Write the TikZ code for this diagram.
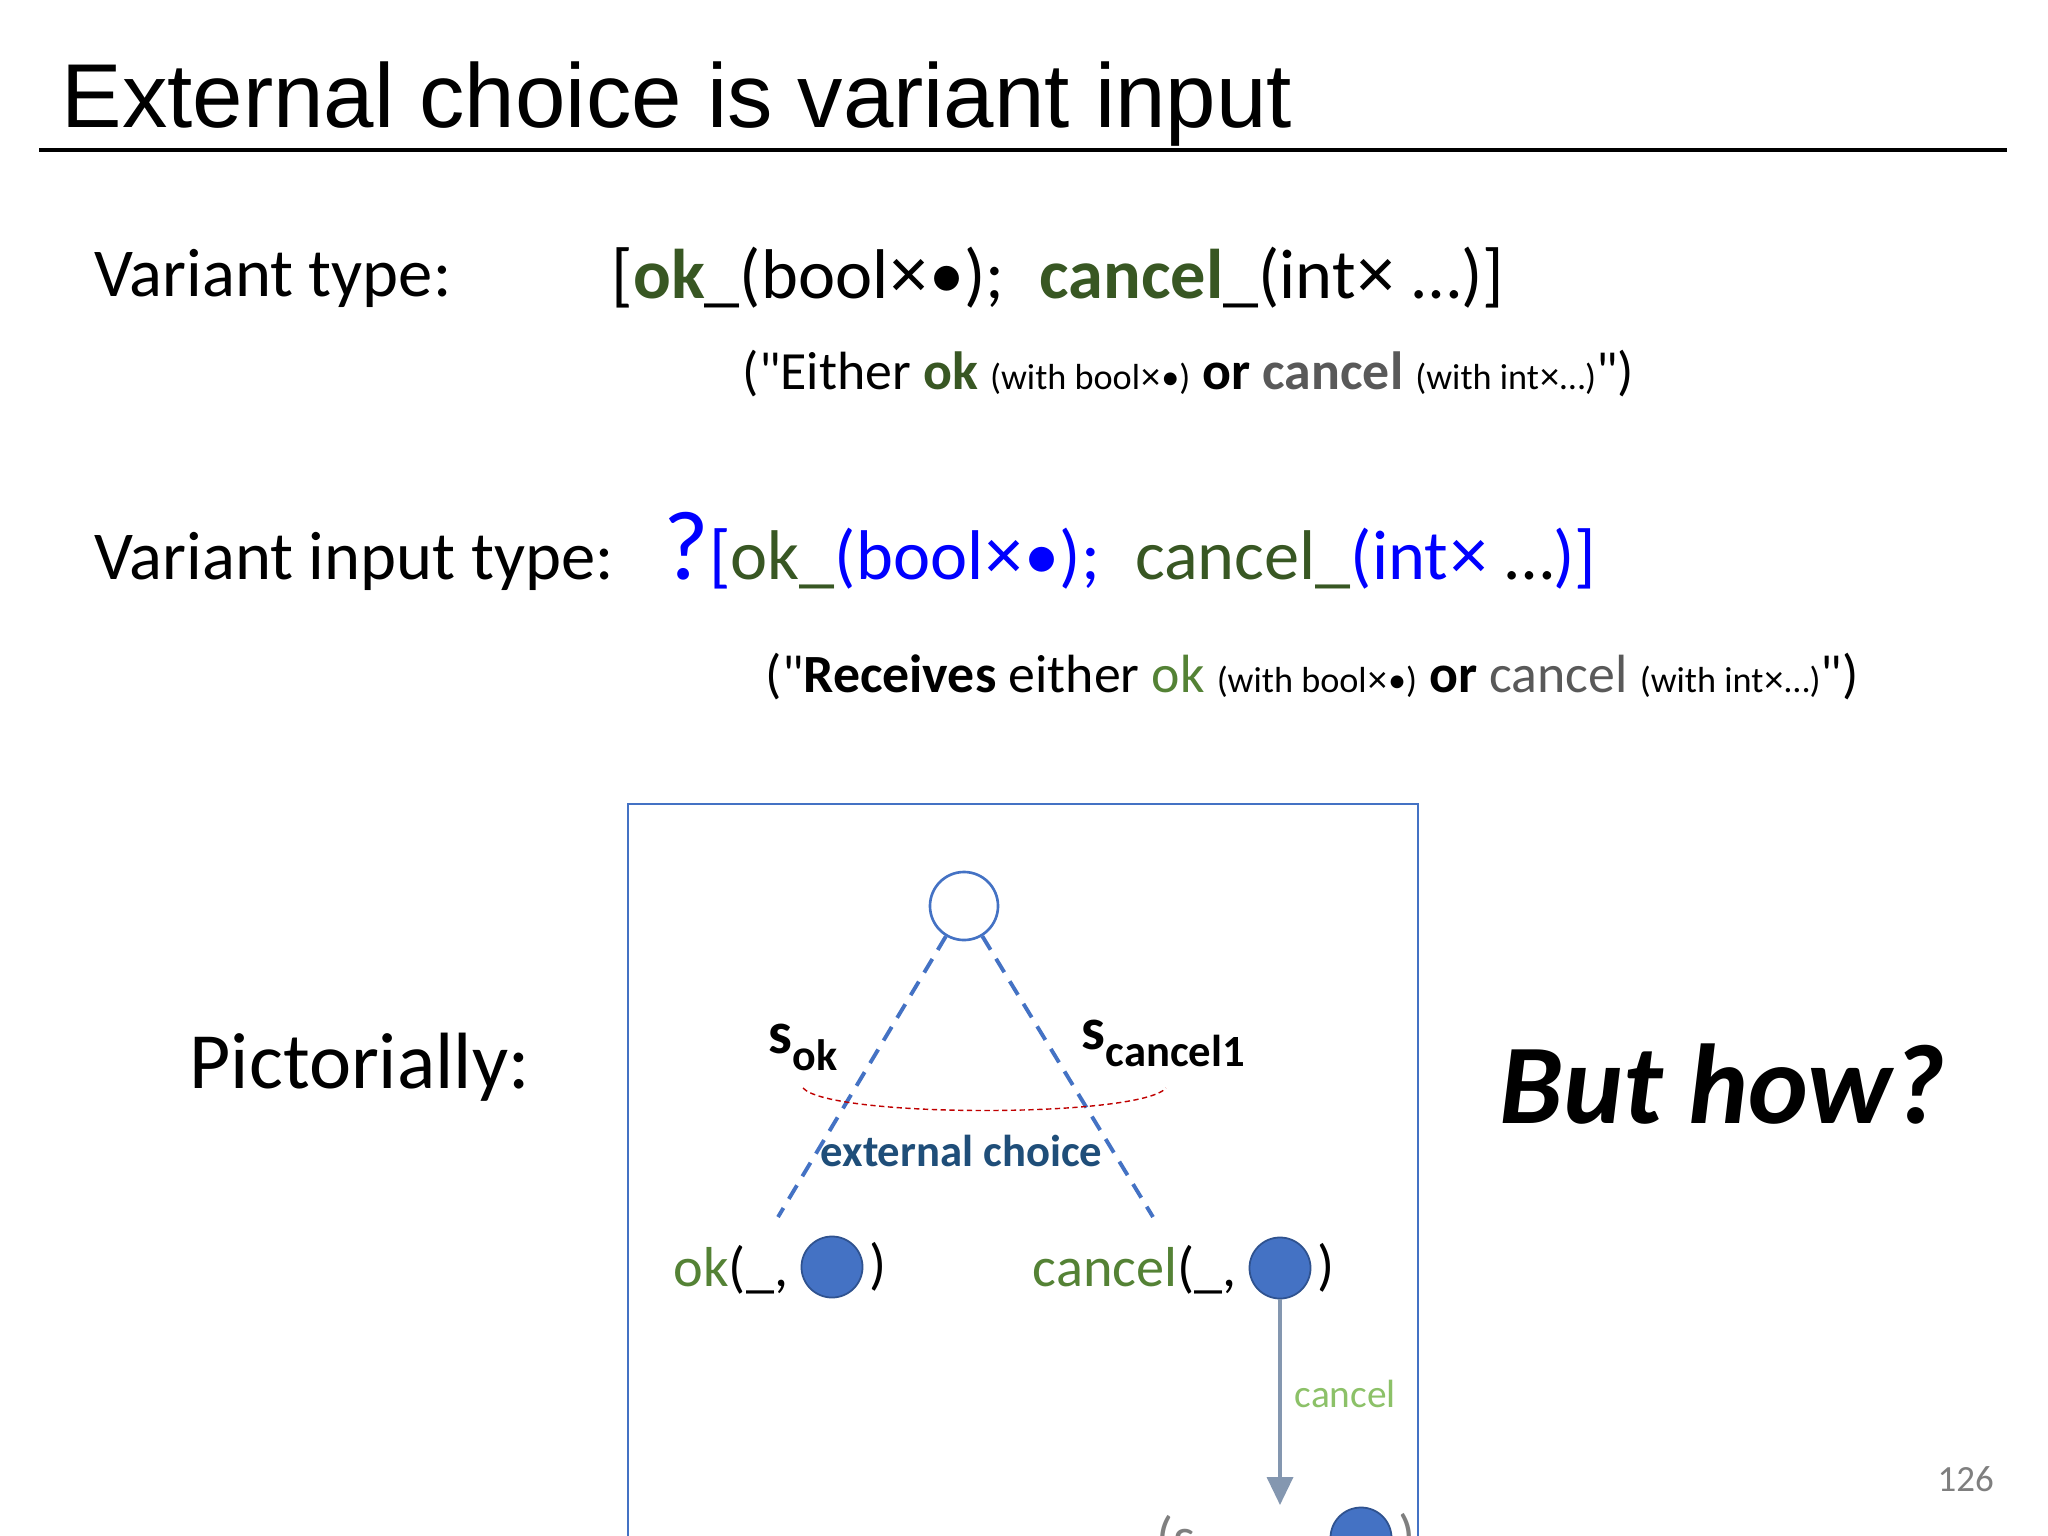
\documentclass[tikz,border=0pt]{standalone}
\usepackage{fontspec}
\setmainfont{Carlito}
\newfontfamily\arialfont{Liberation Sans}
\usepackage{tikz}
\usetikzlibrary{positioning,arrows.meta}

\definecolor{OkGreen}{HTML}{385723}
\definecolor{OkLight}{HTML}{548235}
\definecolor{CancelGrey}{HTML}{595959}
\definecolor{BoxBlue}{HTML}{4472C4}
\definecolor{BallRim}{HTML}{2F528F}
\definecolor{ChoiceBlue}{HTML}{1F4E79}
\definecolor{ArrowGrey}{HTML}{8497B0}
\definecolor{TagGreen}{HTML}{8CC168}
\definecolor{ArcRed}{HTML}{C00000}
\definecolor{PageGrey}{HTML}{7F7F7F}

\newcommand{\fsz}[1]{\fontsize{#1pt}{#1pt}\selectfont}
\newcommand{\tms}{{\arialfont ×}}
\newcommand{\qt}{\textquotedbl}
\newcommand{\withtxt}[1]{{\fsz{10.3}(with #1)}}

\begin{document}
\begin{tikzpicture}[
    x=0.01cm, y=-0.01cm,
    every node/.style={inner sep=0pt, anchor=base west},
    lead/.style={font=\fsz{19.5}},
    formula/.style={font=\fsz{20}},
    gloss/.style={font=\fsz{15.3}},
    leaf/.style={font=\fsz{16}},
    ball/.style={circle, draw=BallRim, fill=BoxBlue, line width=0.5pt, minimum size=0.61cm, anchor=center},
    branch/.style={draw=BoxBlue, line width=1.1pt, dash pattern=on 4.5pt off 3pt}]

    \useasboundingbox (0,0) rectangle (2048,1536);
    \clip (0,0) rectangle (2048,1536);
    \fill[white] (0,0) rectangle (2048,1536);

    \node[font=\arialfont\fsz{25.8}] (title) at (61,127) {External choice is variant input};
    \draw[line width=1.2pt] (39,150) -- (2007,150);

    \node[lead] (vtype) at (94,296) {Variant type:};
    \node[formula] (vform) at (611,298) {[\textbf{\color{OkGreen}ok}\_(bool\tms•);\hspace{0.5em}\textbf{\color{OkGreen}cancel}\_(int\tms{} …)]};
    \node[gloss] (vgloss) at (742,389) {(\qt Either \textbf{\color{OkGreen}ok} \withtxt{bool\tms•} \textbf{or} \textbf{\color{CancelGrey}cancel} \withtxt{int\tms…}\qt)};

    \node[lead] (vitype) at (94,579) {Variant input type:};
    \node[formula, text=blue] (viform) at (663,579) {{\fsz{28}?}[{\color{OkGreen}ok\_}(bool\tms•);\hspace{0.5em}{\color{OkGreen}cancel\_}(int\tms{} {\color{black}…})]};
    \node[gloss] (vigloss) at (765,692) {(\qt\textbf{Receives} either {\color{OkLight}ok} \withtxt{bool\tms•} \textbf{or} {\color{CancelGrey}cancel} \withtxt{int\tms…}\qt)};

    \node[font=\fsz{22.7}] (pict) at (189,1088) {Pictorially:};
    \node[font=\fsz{32.3}\bfseries\itshape] (how) at (1499,1123) {But how?};

    % the picture
    \draw[BoxBlue, line width=0.75pt] (628,804) rectangle (1418,1600);
    \node[circle, draw=BoxBlue, fill=white, line width=0.75pt, minimum size=0.68cm, anchor=center] (root) at (964,906) {};
    \coordinate (okend) at (778,1217);
    \coordinate (cancelend) at (1153,1217);
    \draw[branch] (root) -- (okend);
    \draw[branch] (root) -- (cancelend);

    \node[font=\fsz{17}\bfseries] (sok) at (768,1053) {s\raisebox{-5pt}{\fsz{12.5}ok}};
    \node[font=\fsz{17}\bfseries] (scancel) at (1081,1049) {s\raisebox{-5pt}{\fsz{12.7}cancel1}};
    \draw[ArcRed, line width=0.4pt, dash pattern=on 1.5pt off 1pt] (803,1088) .. controls (830,1118) and (1140,1118) .. (1166,1088);
    \node[font=\fsz{12.7}\bfseries, text=ChoiceBlue] (choice) at (820,1166) {external choice};

    \node[leaf] (okleaf) at (673,1286) {{\color{OkLight}ok}(\_,};
    \node[ball] (okball) at (832,1267) {};
    \node[leaf, right=0.5mm of okball] (okclose) {)};
    \node[leaf] (cancelleaf) at (1032,1286) {{\color{OkLight}cancel}(\_,};
    \node[ball] (cancelball) at (1280,1268) {};
    \node[leaf, right=0.5mm of cancelball] (cancelclose) {)};

    \coordinate (nexttop) at (1280,1505);
    \draw[ArrowGrey, line width=1pt, -{Triangle[width=0.26cm,length=0.28cm]}] (cancelball) -- (nexttop);
    \node[font=\fsz{11.2}, text=TagGreen] (tag) at (1294,1407) {cancel};

    \node[leaf, text=PageGrey] (nextleaf) at (1156,1556) {(s};
    \node[ball] (nextball) at (1361,1538) {};
    \node[leaf, text=PageGrey, right=0.5mm of nextball] (nextclose) {)};

    \node[font=\fsz{10.5}, text=PageGrey] (pagenum) at (1937,1491) {126};
\end{tikzpicture}
\end{document}
